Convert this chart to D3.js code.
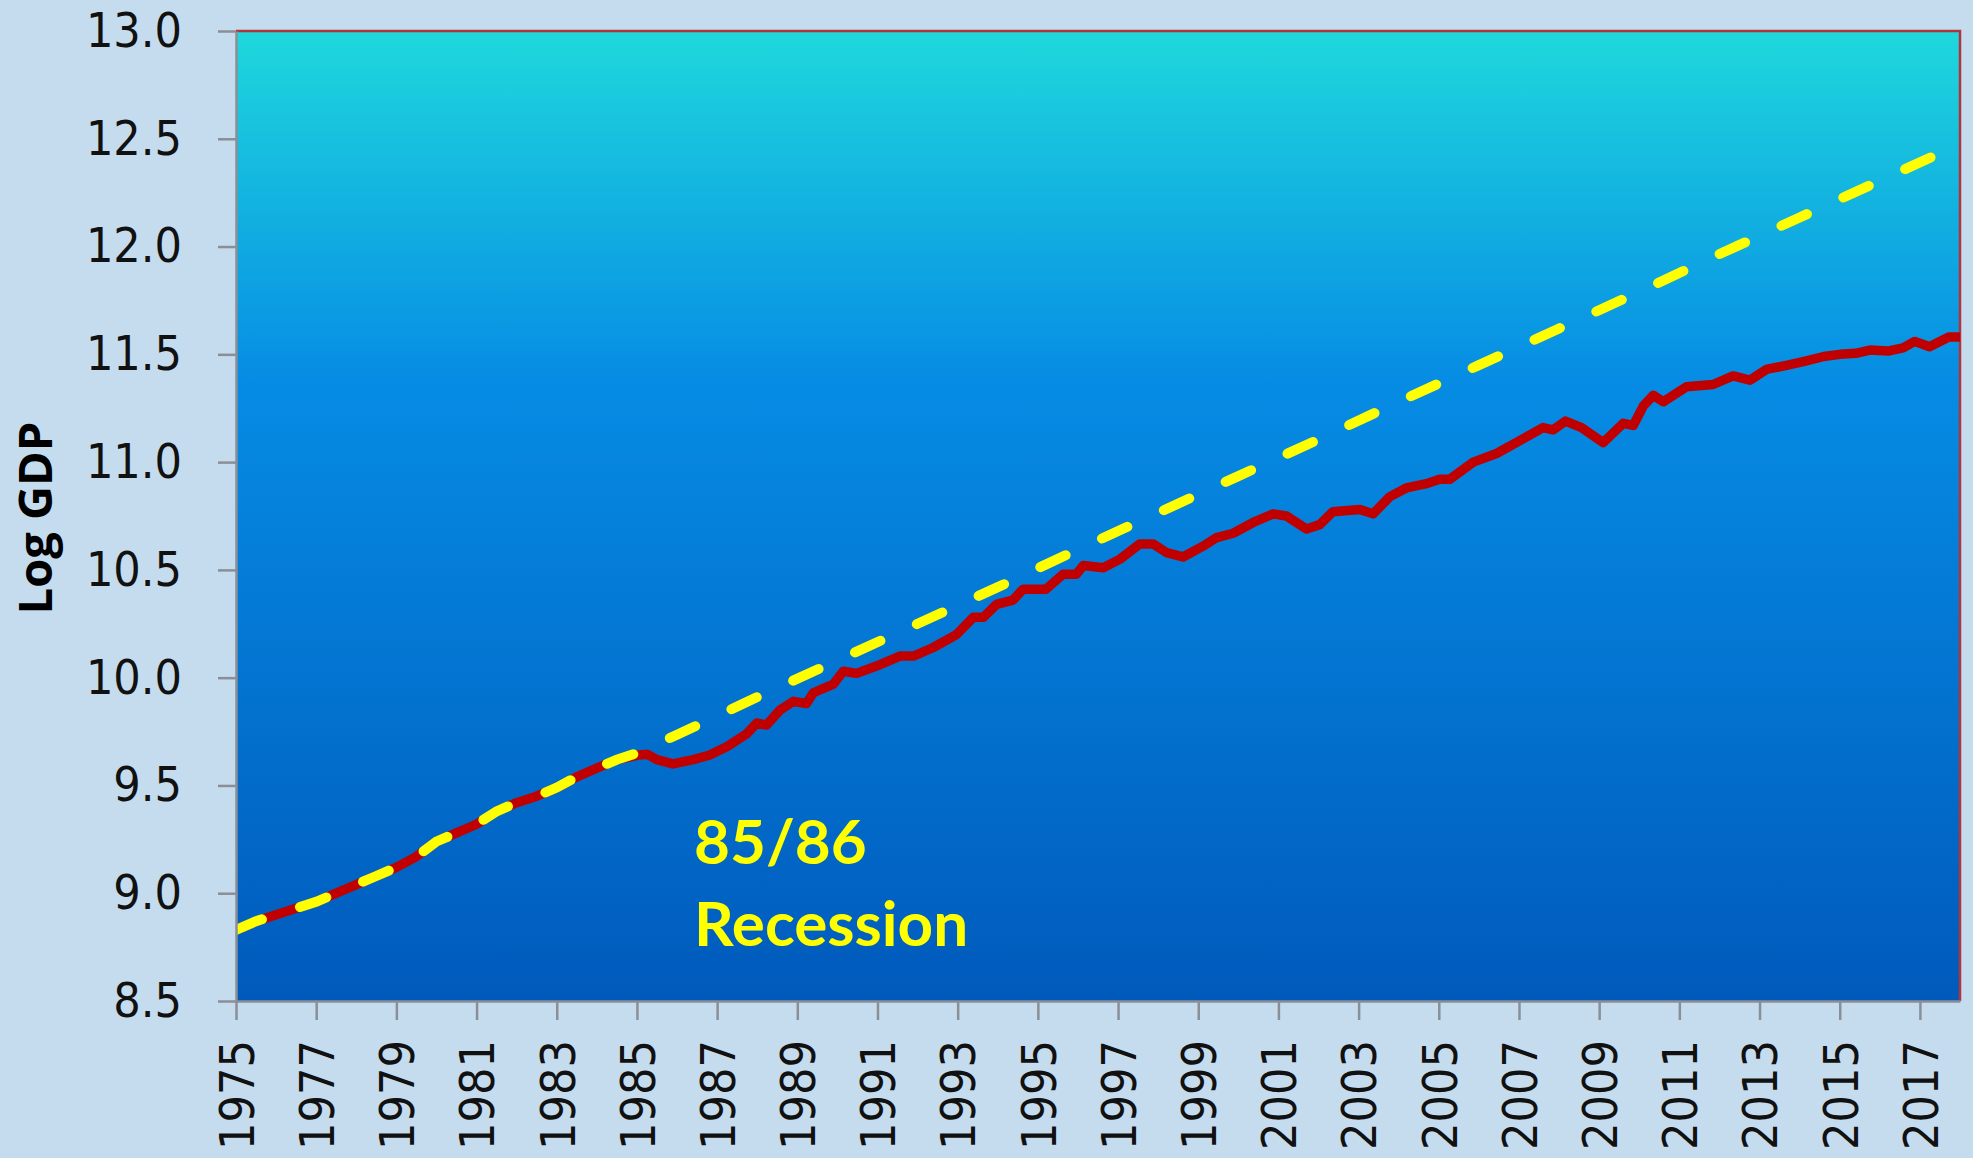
<!DOCTYPE html>
<html>
<head>
<meta charset="utf-8">
<script src="https://cdn.jsdelivr.net/npm/d3@7"></script>
<style>
    body { margin: 0; background: #c5dcef; }
    svg { display: block; }
</style>
</head>
<body>
<svg id="gdpChart" width="1973" height="1158"></svg>
<script>
var actualYear = [1975.0, 1975.5, 1976.0, 1976.5, 1977.0, 1977.5, 1978.0, 1978.5, 1979.0, 1979.5,
    1980.0, 1980.5, 1981.0, 1981.5, 1982.0, 1982.5, 1983.0, 1983.5, 1984.0, 1984.5,
    1985.0, 1985.25, 1985.5, 1985.9, 1986.4, 1986.8, 1987.24, 1987.74, 1987.99, 1988.23,
    1988.57, 1988.9, 1989.23, 1989.4, 1989.9, 1990.15, 1990.48, 1991.06, 1991.56, 1991.9,
    1992.39, 1992.97, 1993.39, 1993.64, 1993.97, 1994.38, 1994.63, 1995.2, 1995.63, 1995.96,
    1996.13, 1996.63, 1997.05, 1997.54, 1997.88, 1998.21, 1998.62, 1999.12, 1999.46, 1999.87,
    2000.37, 2000.87, 2001.2, 2001.7, 2002.03, 2002.36, 2003.03, 2003.36, 2003.78, 2004.19,
    2004.69, 2005.02, 2005.27, 2005.86, 2006.44, 2007.02, 2007.6, 2007.85, 2008.16, 2008.56,
    2009.1, 2009.6, 2009.85, 2010.1, 2010.35, 2010.6, 2011.18, 2011.84, 2012.34, 2012.76,
    2013.17, 2013.7, 2014.17, 2014.6, 2015.0, 2015.4, 2015.75, 2016.2, 2016.58, 2016.87,
    2017.24, 2017.72, 2018.0];
var actualLog = [8.83, 8.87, 8.90, 8.93, 8.96, 9.00, 9.04, 9.08, 9.12, 9.17,
    9.24, 9.28, 9.32, 9.38, 9.42, 9.45, 9.49, 9.54, 9.58, 9.62,
    9.64, 9.645, 9.62, 9.60, 9.62, 9.64, 9.68, 9.74, 9.79, 9.78,
    9.85, 9.89, 9.88, 9.93, 9.97, 10.03, 10.02, 10.06, 10.10, 10.10,
    10.14, 10.20, 10.28, 10.28, 10.34, 10.36, 10.41, 10.41, 10.48, 10.48,
    10.52, 10.51, 10.55, 10.62, 10.62, 10.58, 10.56, 10.61, 10.65, 10.67,
    10.72, 10.76, 10.75, 10.69, 10.71, 10.77, 10.78, 10.76, 10.84, 10.88,
    10.90, 10.92, 10.92, 11.00, 11.04, 11.10, 11.16, 11.15, 11.19, 11.16,
    11.09, 11.18, 11.17, 11.26, 11.31, 11.28, 11.35, 11.36, 11.40, 11.38,
    11.43, 11.45, 11.47, 11.49, 11.50, 11.505, 11.52, 11.515, 11.53, 11.56,
    11.535, 11.58, 11.58];

// trend path: follows actual until 1985, then the projected line
var trendYear = [1975.0, 1975.5, 1976.0, 1976.5, 1977.0, 1977.5, 1978.0, 1978.5, 1979.0, 1979.5,
    1980.0, 1980.5, 1981.0, 1981.5, 1982.0, 1982.5, 1983.0, 1983.5, 1984.0, 1984.5,
    1985.0, 1986.0, 1988.0, 1990.0, 1992.0, 1994.0, 1996.0, 1998.0, 2000.0, 2002.0,
    2004.0, 2006.0, 2008.0, 2010.0, 2012.0, 2014.0, 2016.0, 2017.75];
var trendLog = [8.83, 8.87, 8.90, 8.93, 8.96, 9.00, 9.04, 9.08, 9.12, 9.17,
    9.24, 9.28, 9.32, 9.38, 9.42, 9.45, 9.49, 9.54, 9.58, 9.62,
    9.65, 9.735, 9.91, 10.08, 10.25, 10.42, 10.595, 10.765, 10.935, 11.105,
    11.28, 11.45, 11.62, 11.79, 11.965, 12.135, 12.305, 12.455];

var yTicks = [8.5, 9.0, 9.5, 10.0, 10.5, 11.0, 11.5, 12.0, 12.5, 13.0];
var xTicks = [1975, 1977, 1979, 1981, 1983, 1985, 1987, 1989, 1991, 1993, 1995,
    1997, 1999, 2001, 2003, 2005, 2007, 2009, 2011, 2013, 2015, 2017];
var yTitle = "Log GDP";
var noteLines = ["85/86", "Recession"];

function toPoints(xs, ys) {
    return xs.map(function (x, i) {
        return { x: x, y: ys[i] };
    });
}

function drawChart() {
    var graph = d3.select("#gdpChart"),
        margins = { top: 31, right: 13, bottom: 157, left: 236 },
        width = 1973,
        height = 1158,
        xRange = d3.scaleLinear().domain([1975, 2018]).range([margins.left, width - margins.right]),
        yRange = d3.scaleLinear().domain([8.5, 13]).range([height - margins.bottom, margins.top]);

    var grad = graph.append("defs").append("linearGradient")
        .attr("id", "plotFill")
        .attr("x1", 0).attr("y1", 0).attr("x2", 0).attr("y2", 1);
    grad.append("stop").attr("offset", "0%").attr("stop-color", "#1fd8dc");
    grad.append("stop").attr("offset", "36%").attr("stop-color", "#068ce4");
    grad.append("stop").attr("offset", "100%").attr("stop-color", "#005abc");

    graph.select("defs").append("clipPath").attr("id", "plotClip")
        .append("rect")
        .attr("x", xRange(1975)).attr("y", yRange(13))
        .attr("width", xRange(2018) - xRange(1975))
        .attr("height", yRange(8.5) - yRange(13));

    graph.append("rect")
        .attr("x", xRange(1975)).attr("y", yRange(13))
        .attr("width", xRange(2018) - xRange(1975))
        .attr("height", yRange(8.5) - yRange(13))
        .attr("fill", "url(#plotFill)");

    // red frame on top and right
    graph.append("path")
        .attr("d", "M" + xRange(1975) + "," + yRange(13) + "H" + xRange(2018) + "V" + yRange(8.5))
        .attr("fill", "none")
        .attr("stroke", "#b0343c")
        .attr("stroke-width", 2.5);

    var lineFunc = d3.line()
        .x(function (d) { return xRange(d.x); })
        .y(function (d) { return yRange(d.y); });

    var lines = graph.append("g").attr("clip-path", "url(#plotClip)");

    lines.append("path")
        .attr("d", lineFunc(toPoints(actualYear, actualLog)))
        .attr("stroke", "#c00000")
        .attr("stroke-width", 9.5)
        .attr("stroke-linejoin", "round")
        .attr("fill", "none");

    lines.append("path")
        .attr("d", lineFunc(toPoints(trendYear, trendLog)))
        .attr("stroke", "#ffff00")
        .attr("stroke-width", 10)
        .attr("stroke-linecap", "round")
        .attr("stroke-dasharray", "28,40")
        .attr("fill", "none");

    var xAxis = d3.axisBottom(xRange)
            .tickValues(xTicks)
            .tickSize(19)
            .tickSizeOuter(0)
            .tickFormat(d3.format("d")),
        yAxis = d3.axisLeft(yRange)
            .tickValues(yTicks)
            .tickSize(18)
            .tickSizeOuter(0)
            .tickPadding(36)
            .tickFormat(d3.format(".1f"));

    var gx = graph.append("g")
        .attr("class", "x axis")
        .attr("transform", "translate(0," + yRange(8.5) + ")")
        .call(xAxis);

    var gy = graph.append("g")
        .attr("class", "y axis")
        .attr("transform", "translate(" + xRange(1975) + ",0)")
        .call(yAxis);

    [gx, gy].forEach(function (g) {
        g.select(".domain").attr("stroke", "#8a8f96").attr("stroke-width", 2.5);
        g.selectAll(".tick line").attr("stroke", "#8a8f96").attr("stroke-width", 2.5);
        g.selectAll(".tick text")
            .attr("fill", "#111")
            .style("font-family", "'DejaVu Sans Condensed', 'DejaVu Sans', sans-serif")
            .style("font-size", "48px");
    });

    gx.selectAll(".tick text")
        .attr("transform", "rotate(-90)")
        .attr("text-anchor", "end")
        .attr("x", -39)
        .attr("y", 0)
        .attr("dy", "0.36em");

    graph.append("text")
        .attr("transform", "translate(52," + ((yRange(13) + yRange(8.5)) / 2 + 2) + ") rotate(-90)")
        .attr("text-anchor", "middle")
        .attr("fill", "#000")
        .style("font-family", "'Open Sans', sans-serif")
        .style("font-weight", "bold")
        .style("font-size", "47px")
        .text(yTitle);

    var note = graph.append("text")
        .attr("fill", "#ffff00")
        .style("font-family", "Lato, 'Open Sans', sans-serif")
        .style("font-weight", "bold")
        .style("font-size", "62px");

    note.selectAll("tspan")
        .data(noteLines)
        .enter()
        .append("tspan")
        .attr("x", 694)
        .attr("y", function (d, i) { return 864 + i * 82; })
        .text(function (d) { return d; });
}

drawChart();
</script>
</body>
</html>
